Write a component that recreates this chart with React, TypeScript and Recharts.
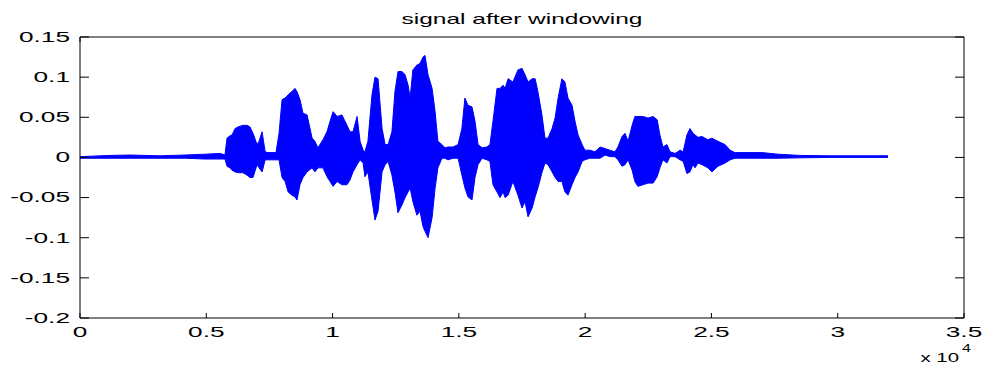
import React from "react";
import { ComposedChart, Area, XAxis, YAxis } from "recharts";

// sample index (x) positions where the envelope was read
const sampleIdx = [
  0, 1190, 1980, 3170, 4160, 4950, 5540, 5740,
  5820, 5940, 6020, 6140, 6260, 6450, 6610, 6730, 6850, 7010, 7090, 7210, 7330, 7440, 7600, 7760,
  7880, 8000, 8120, 8240, 8390, 8510, 8590, 8710, 8830, 8990, 9190, 9300, 9420,
  9620, 9780, 9900, 10020, 10180, 10370, 10570, 10690, 10810, 10970, 11090, 11210, 11280, 11400,
  11560, 11680, 11800, 11960, 12080, 12200, 12350,
  12470, 12590, 12750, 12870, 12990, 13070, 13180, 13340, 13460, 13580, 13660, 13780, 13940, 14060, 14170, 14330, 14450, 14570, 14770, 14970,
  15120, 15240, 15360, 15520, 15640, 15760, 15920, 16110, 16230,
  16350, 16510, 16630, 16750, 16830, 16950, 17140, 17340, 17500, 17620, 17740, 17900, 18020, 18130, 18290, 18410, 18530,
  18690, 18810, 18930, 19080, 19200, 19320, 19480, 19600, 19720, 19880, 19990, 20190, 20390, 20590, 20790, 20980, 21180, 21300,
  21460, 21580, 21700, 21860, 21970, 22090, 22290, 22490, 22690, 22850, 22960, 23080, 23240, 23360, 23560, 23760, 23880,
  24030, 24150, 24270, 24350, 24470, 24630, 24860, 25020, 25260, 25540, 25740, 25930, 26330, 27000, 27640, 28510, 29690, 30880, 31990,
];

// upper envelope of the windowed signal
const upperEnv = [
  0.001, 0.0025, 0.003, 0.002, 0.003, 0.004, 0.005, 0.003,
  0.024, 0.027, 0.028, 0.036, 0.038, 0.040, 0.040, 0.038, 0.030, 0.016, 0.020, 0.032, 0.007, 0.006, 0.006, 0.006,
  0.030, 0.072, 0.074, 0.078, 0.082, 0.086, 0.082, 0.072, 0.055, 0.053, 0.024, 0.020, 0.012,
  0.022, 0.032, 0.045, 0.057, 0.051, 0.053, 0.040, 0.032, 0.032, 0.051, 0.020, 0.009, 0.007, 0.020,
  0.078, 0.100, 0.098, 0.036, 0.016, 0.016, 0.032,
  0.082, 0.107, 0.107, 0.103, 0.090, 0.074, 0.109, 0.115, 0.117, 0.125, 0.127, 0.103, 0.086, 0.057, 0.020, 0.016, 0.012, 0.013, 0.013, 0.016,
  0.036, 0.074, 0.065, 0.063, 0.045, 0.016, 0.012, 0.013, 0.016,
  0.045, 0.086, 0.086, 0.090, 0.086, 0.098, 0.094, 0.109, 0.111, 0.103, 0.094, 0.098, 0.098, 0.082, 0.053, 0.024, 0.024,
  0.036, 0.049, 0.074, 0.098, 0.094, 0.074, 0.065, 0.045, 0.028, 0.016, 0.009, 0.009, 0.007, 0.013, 0.011, 0.009, 0.007, 0.013,
  0.026, 0.030, 0.020, 0.040, 0.051, 0.051, 0.051, 0.049, 0.051, 0.047, 0.028, 0.013, 0.016, 0.007, 0.005, 0.009, 0.007,
  0.028, 0.036, 0.030, 0.028, 0.025, 0.026, 0.022, 0.024, 0.020, 0.016, 0.009, 0.006, 0.006, 0.006, 0.004, 0.0025, 0.002, 0.002, 0.002,
];

// lower envelope of the windowed signal
const lowerEnv = [
  -0.001, -0.001, -0.001, -0.001, -0.001, -0.002, -0.002, -0.002,
  -0.011, -0.013, -0.016, -0.018, -0.019, -0.019, -0.022, -0.025, -0.025, -0.009, -0.013, -0.018, -0.003, -0.003, -0.003, -0.003,
  -0.003, -0.025, -0.030, -0.043, -0.047, -0.049, -0.053, -0.034, -0.025, -0.018, -0.013, -0.018, -0.013,
  -0.013, -0.024, -0.030, -0.036, -0.030, -0.034, -0.034, -0.028, -0.018, -0.009, -0.003, -0.007, -0.024, -0.018,
  -0.053, -0.078, -0.067, -0.018, -0.009, -0.005, -0.022,
  -0.043, -0.069, -0.059, -0.050, -0.043, -0.038, -0.055, -0.072, -0.067, -0.086, -0.092, -0.100, -0.075, -0.038, -0.013, -0.001, -0.001, -0.003, -0.001, -0.001,
  -0.022, -0.038, -0.049, -0.053, -0.025, -0.009, -0.001, -0.003, -0.005,
  -0.034, -0.043, -0.050, -0.043, -0.050, -0.047, -0.030, -0.047, -0.063, -0.055, -0.074, -0.063, -0.049, -0.038, -0.019, -0.007, -0.009,
  -0.018, -0.025, -0.030, -0.030, -0.043, -0.047, -0.034, -0.025, -0.018, -0.005, -0.003, -0.001, -0.001, -0.001, 0.003, 0.001, 0.001, -0.003,
  -0.011, -0.009, -0.003, -0.016, -0.030, -0.036, -0.034, -0.032, -0.032, -0.024, -0.013, -0.003, -0.007, 0.001, 0.001, -0.003, -0.005,
  -0.020, -0.018, -0.009, -0.013, -0.007, -0.009, -0.013, -0.018, -0.011, -0.007, -0.003, -0.001, -0.001, -0.001, -0.001, -0.0005, 0, 0, 0,
];

const xTicks = [0, 5000, 10000, 15000, 20000, 25000, 30000, 35000];
const xTickLabels = ["0", "0.5", "1", "1.5", "2", "2.5", "3", "3.5"];
const yTicks = [-0.2, -0.15, -0.1, -0.05, 0, 0.05, 0.1, 0.15];
const yTickLabels = ["-0.2", "-0.15", "-0.1", "-0.05", "0", "0.05", "0.1", "0.15"];

const titleText = "signal after windowing";
const xExpBase = "x 10";
const xExpPower = "4";

const data = sampleIdx.map((x, i) => ({ x, range: [lowerEnv[i], upperEnv[i]] }));

const FONT = "'Liberation Sans', Arial, Helvetica, sans-serif";
const SX = 1.75;
const BLUE = "#0000ff";

function LeftTick(props: any) {
  const { x, y, payload } = props;
  const ax = x + 10;
  const label = yTickLabels[yTicks.indexOf(payload.value)];
  return (
    <g>
      <line x1={ax} y1={y} x2={ax + 9} y2={y} stroke="#000" strokeWidth={1} />
      <text
        transform={`translate(${x},${y}) scale(${SX},1)`}
        textAnchor="end"
        dominantBaseline="central"
        fontSize={15}
        fontFamily={FONT}
        fill="#000"
      >
        {label}
      </text>
    </g>
  );
}

function RightTick(props: any) {
  const { x, y } = props;
  return <line x1={x} y1={y} x2={x - 9} y2={y} stroke="#000" strokeWidth={1} />;
}

function BottomTick(props: any) {
  const { x, y, payload } = props;
  const label = xTickLabels[xTicks.indexOf(payload.value)];
  return (
    <g>
      <line x1={x} y1={y} x2={x} y2={y - 5} stroke="#000" strokeWidth={1} />
      <text
        transform={`translate(${x},${y + 19}) scale(${SX},1)`}
        textAnchor="middle"
        fontSize={15}
        fontFamily={FONT}
        fill="#000"
      >
        {label}
      </text>
    </g>
  );
}

function TopTick(props: any) {
  const { x, y } = props;
  return <line x1={x} y1={y} x2={x} y2={y + 5} stroke="#000" strokeWidth={1} />;
}

function TitleLabel(props: any) {
  const vb = props.viewBox || { x: 80, width: 884 };
  const cx = vb.x + vb.width / 2;
  return (
    <text
      transform={`translate(${cx},24) scale(${SX},1)`}
      textAnchor="middle"
      fontSize={14}
      fontFamily={FONT}
      fill="#000"
    >
      {titleText}
    </text>
  );
}

function ExpLabel() {
  return (
    <g>
      <text
        transform={`translate(959,362) scale(1.7,1)`}
        textAnchor="end"
        fontSize={12}
        fontFamily={FONT}
        fill="#000"
      >
        {xExpBase}
      </text>
      <text
        transform={`translate(962,352) scale(1.6,1)`}
        textAnchor="start"
        fontSize={10}
        fontFamily={FONT}
        fill="#000"
      >
        {xExpPower}
      </text>
    </g>
  );
}

export default function App() {
  return (
    <div style={{ position: "absolute", left: 0, top: 0, width: 982, height: 366, background: "#fff" }}>
      <ComposedChart
        width={982}
        height={366}
        data={data}
        margin={{ top: 0, right: 0, bottom: 0, left: 0 }}
      >
        <XAxis
          xAxisId="b"
          dataKey="x"
          type="number"
          domain={[0, 35000]}
          ticks={xTicks}
          interval={0}
          height={48}
          tickSize={0}
          tickMargin={0}
          tick={<BottomTick />}
          axisLine={{ stroke: "#000", strokeWidth: 1 }}
          tickLine={false}
          allowDataOverflow
          label={ExpLabel}
        />
        <XAxis
          xAxisId="t"
          orientation="top"
          type="number"
          domain={[0, 35000]}
          ticks={xTicks}
          interval={0}
          height={37}
          tickSize={0}
          tickMargin={0}
          tick={<TopTick />}
          axisLine={{ stroke: "#000", strokeWidth: 1 }}
          tickLine={false}
          allowDataOverflow
          label={TitleLabel}
        />
        <YAxis
          yAxisId="l"
          type="number"
          domain={[-0.2, 0.15]}
          ticks={yTicks}
          interval={0}
          width={80}
          tickSize={0}
          tickMargin={10}
          tick={<LeftTick />}
          axisLine={{ stroke: "#000", strokeWidth: 1 }}
          tickLine={false}
          allowDataOverflow
        />
        <YAxis
          yAxisId="r"
          orientation="right"
          type="number"
          domain={[-0.2, 0.15]}
          ticks={yTicks}
          interval={0}
          width={18}
          tickSize={0}
          tickMargin={0}
          tick={<RightTick />}
          axisLine={{ stroke: "#000", strokeWidth: 1 }}
          tickLine={false}
          allowDataOverflow
        />
        <Area
          xAxisId="b"
          yAxisId="l"
          dataKey="range"
          type="linear"
          stroke={BLUE}
          strokeWidth={1}
          fill={BLUE}
          fillOpacity={1}
          dot={false}
          activeDot={false}
          isAnimationActive={false}
        />
      </ComposedChart>
    </div>
  );
}
